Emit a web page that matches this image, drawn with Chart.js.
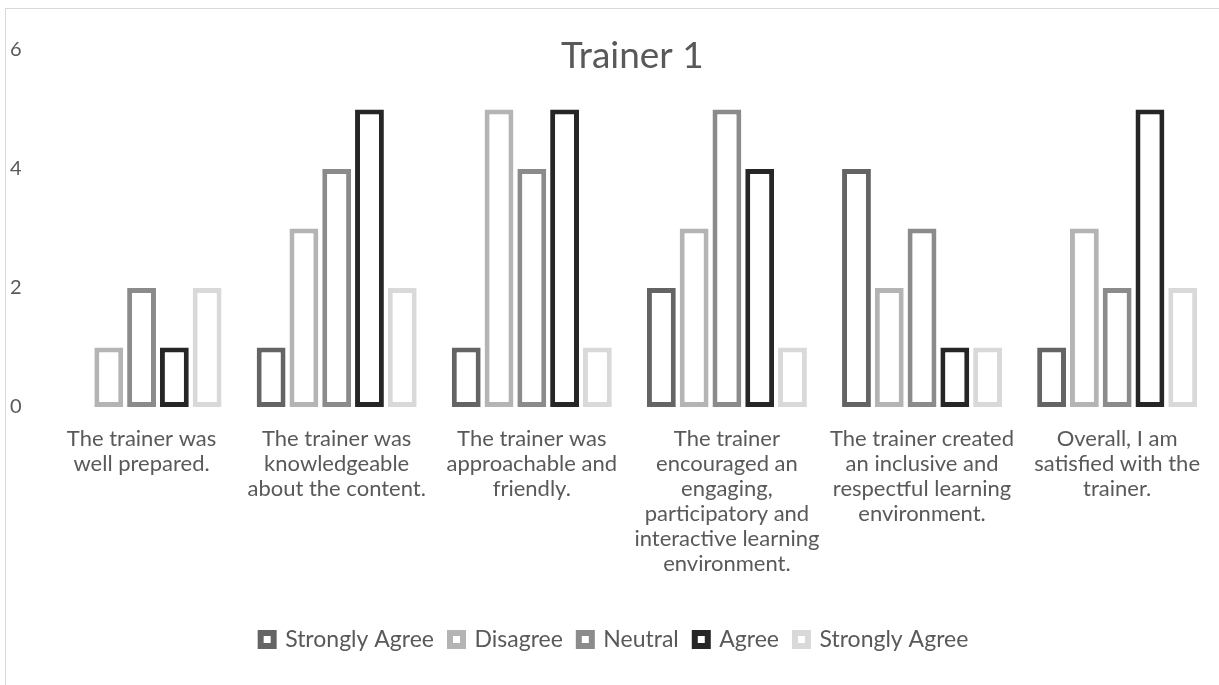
<!DOCTYPE html>
<html>
<head>
<meta charset="utf-8">
<script src="https://cdn.jsdelivr.net/npm/chart.js"></script>
<style>
  html, body { margin: 0; padding: 0; background: #fff; overflow: hidden; }
  #frame { position: absolute; left: 5px; top: 8px; width: 1400px; height: 900px; border: 1px solid #d9d9d9; }
  #wrap { position: absolute; left: 0; top: 0; width: 1219px; height: 685px; }
</style>
</head>
<body>
<div id="frame"></div>
<div id="wrap"><canvas id="chart"></canvas></div>
<script>
// ==================================================
// DATA
// ==================================================
const chartTitle = "Trainer 1";
const categories = [
  ["The trainer was", "well prepared."],
  ["The trainer was", "knowledgeable", "about the content."],
  ["The trainer was", "approachable and", "friendly."],
  ["The trainer", "encouraged an", "engaging,", "participatory and", "interactive learning", "environment."],
  ["The trainer created", "an inclusive and", "respectful learning", "environment."],
  ["Overall, I am", "satisfied with the", "trainer."],
];
const seriesNames = ["Strongly Agree", "Disagree", "Neutral", "Agree", "Strongly Agree"];
const stronglyAgreeA = [0, 1, 1, 2, 4, 1];
const disagree = [1, 3, 5, 3, 2, 3];
const neutral = [2, 4, 4, 5, 3, 2];
const agree = [1, 5, 5, 4, 1, 5];
const stronglyAgreeB = [2, 2, 1, 1, 1, 2];
const yTicks = [0, 2, 4, 6];

const seriesColors = ["#646464", "#b4b4b4", "#8b8b8b", "#262626", "#d9d9d9"];
const seriesValues = [stronglyAgreeA, disagree, neutral, agree, stronglyAgreeB];

const FONT = "Lato, 'Open Sans', sans-serif";
const TEXT = "#595959";

// ==================================================
// TITLE (drawn over the plot, like the original)
// ==================================================
const titlePlugin = {
  id: "overTitle",
  afterDraw(chart) {
    const { ctx, chartArea } = chart;
    ctx.save();
    ctx.font = "37px " + FONT;
    ctx.fillStyle = TEXT;
    ctx.textAlign = "center";
    ctx.textBaseline = "middle";
    ctx.fillText(chartTitle, (chartArea.left + chartArea.right) / 2 + 3, 56);
    ctx.restore();
  },
};

// ==================================================
// CHART
// ==================================================
const ctx = document.getElementById("chart").getContext("2d");
new Chart(ctx, {
  type: "bar",
  data: {
    labels: categories,
    datasets: seriesNames.map((name, i) => ({
      label: name,
      data: seriesValues[i],
      backgroundColor: "#ffffff",
      borderColor: seriesColors[i],
      borderWidth: 5,
      borderSkipped: false,
      inflateAmount: 0,
      categoryPercentage: 0.84,
      barPercentage: 0.88,
    })),
  },
  options: {
    responsive: true,
    maintainAspectRatio: false,
    animation: false,
    layout: { padding: { top: 50, left: 10, right: 0, bottom: 24 } },
    plugins: {
      tooltip: { enabled: false },
      legend: {
        position: "bottom",
        labels: {
          font: { family: FONT, size: 23 },
          color: TEXT,
          boxWidth: 13,
          boxHeight: 13,
          padding: 16,
          generateLabels(chart) {
            return chart.data.datasets.map((ds, i) => ({
              text: ds.label,
              fillStyle: "#ffffff",
              strokeStyle: ds.borderColor,
              lineWidth: 6,
              fontColor: TEXT,
              datasetIndex: i,
              hidden: false,
            }));
          },
        },
      },
    },
    scales: {
      x: {
        grid: { display: false, drawTicks: false },
        border: { display: false },
        ticks: {
          font: { family: FONT, size: 22, lineHeight: "25px" },
          color: TEXT,
          padding: 19,
          maxRotation: 0,
          autoSkip: false,
        },
        afterFit(scale) { scale.height = 205; },
      },
      y: {
        min: 0,
        max: 6,
        grid: { display: false, drawTicks: false },
        border: { display: false },
        afterBuildTicks(scale) { scale.ticks = yTicks.map((v) => ({ value: v })); },
        ticks: {
          font: { family: FONT, size: 20 },
          color: TEXT,
          crossAlign: "far",
        },
        afterFit(scale) { scale.width = 34; },
      },
    },
  },
  plugins: [titlePlugin],
});
</script>
</body>
</html>
